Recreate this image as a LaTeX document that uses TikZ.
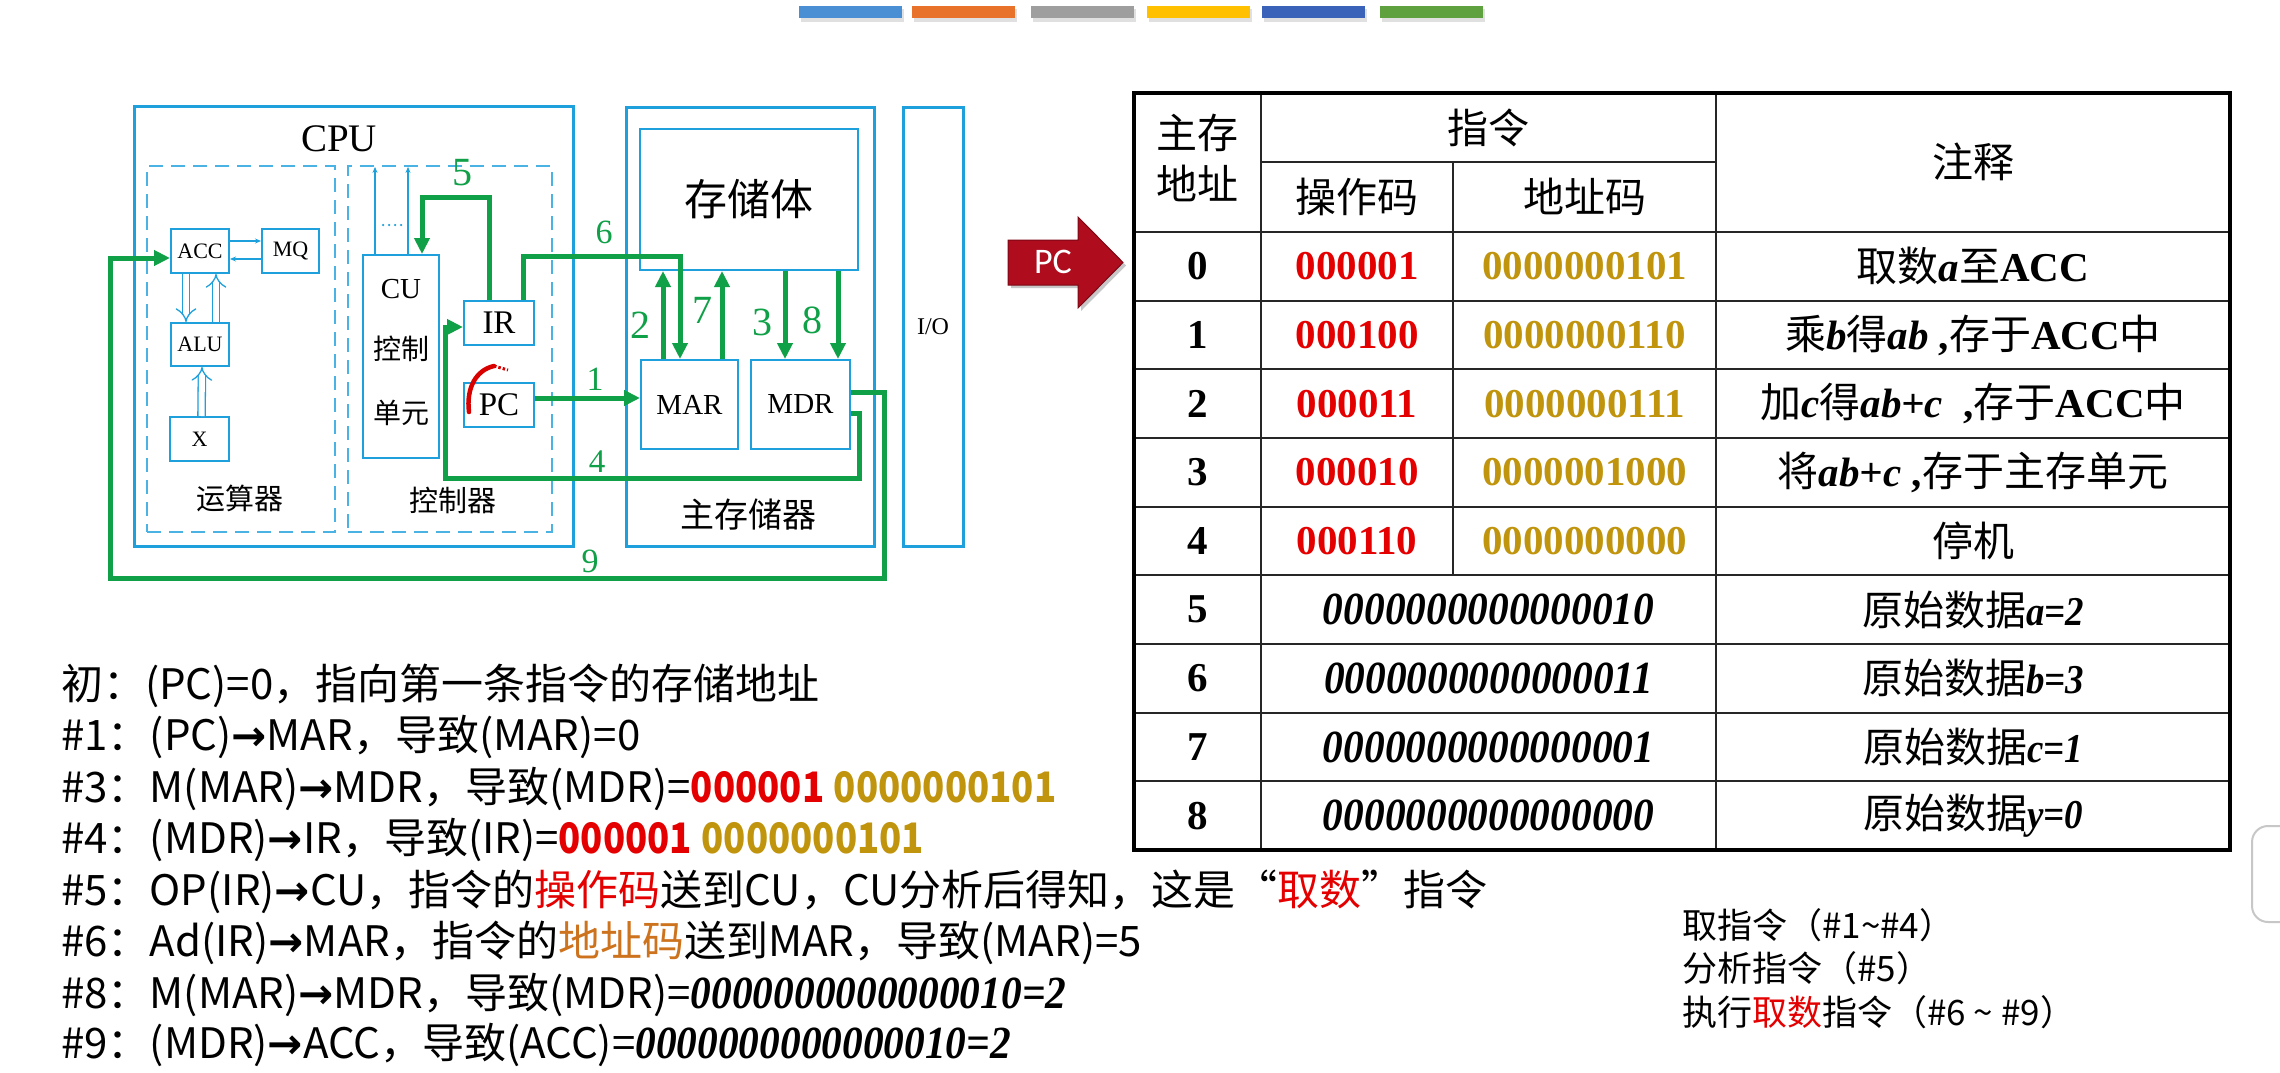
\documentclass[tikz,border=0pt]{standalone}
\usepackage{fontspec}
\usepackage{graphicx}
\setmainfont{Liberation Serif}
\newfontfamily\zhfont{Noto Sans CJK SC}
\newfontfamily\carlfont{Carlito}
\newfontfamily\djvfont{DejaVu Sans}
\usetikzlibrary{arrows.meta,calc}
\definecolor{cpublue}{RGB}{30,160,220}
\definecolor{flowgreen}{RGB}{16,160,72}
\definecolor{pcred}{RGB}{175,12,30}
\definecolor{opred}{RGB}{228,0,0}
\definecolor{adgold}{RGB}{192,148,12}
\definecolor{txtbrown}{RGB}{205,115,30}
\definecolor{barA}{RGB}{74,143,212}
\definecolor{barB}{RGB}{232,114,42}
\definecolor{barC}{RGB}{158,158,158}
\definecolor{barD}{RGB}{255,192,0}
\definecolor{barE}{RGB}{58,98,184}
\definecolor{barF}{RGB}{94,161,62}
\newcommand\setfs[1]{\fontsize{#1}{#1}\selectfont}
\newcommand\zh[1]{{\zhfont #1}}
\newcommand\bi[1]{{\rmfamily\bfseries\itshape #1}}
\newcommand\bic[1]{\scalebox{0.9}[1]{\rmfamily\bfseries\itshape #1}}
\newcommand\cdig[2]{\textcolor{#1}{\scalebox{0.87}[1]{\bfseries #2}}}
\newcommand\arr{{\djvfont\bfseries →}}
\begin{document}
\begin{tikzpicture}[x=1pt,y=-1pt,
  bigbox/.style={draw=cpublue, line width=3pt, inner sep=0pt},
  dashbox/.style={draw=cpublue!80, line width=2.2pt, dash pattern=on 14pt off 8pt, inner sep=0pt},
  regbox/.style={draw=cpublue, line width=2pt, inner sep=0pt},
  lbl/.style={inner sep=0pt},
  flow/.style={draw=flowgreen, line width=5pt, -{Triangle[length=16pt,width=15pt]}},
  flowlbl/.style={text=flowgreen, inner sep=0pt},
  thinarrow/.style={draw=cpublue, line width=1.3pt, -{Stealth[length=6pt,width=5pt]}},
  hollow/.style={draw=cpublue, line width=1.3pt, double=white, double distance=6pt, -{Implies}},
  tline/.style={line width=2.2pt, black!85},
  hd/.style={inner sep=0pt, font=\zhfont\setfs{41}},
  num/.style={inner sep=0pt, font=\bfseries\setfs{41}},
  note/.style={inner sep=0pt, font=\setfs{41}},
  btxt/.style={anchor=west, inner sep=0pt, font=\zhfont\setfs{42}},
  stxt/.style={anchor=west, inner sep=0pt, font=\zhfont\setfs{35}}
]
\useasboundingbox (0,0) rectangle (2280,1073);
\fill[white] (0,0) rectangle (2280,1073);

% top colour bars
\foreach \bx/\bc in {799/barA,912/barB,1031/barC,1147/barD,1262/barE,1380/barF}{
  \fill[black!12] (\bx+2,9) rectangle ++(103,13);
  \fill[\bc] (\bx,6) rectangle ++(103,12);
}

% ---------------- diagram ----------------
\node[bigbox, minimum width=439pt, minimum height=440pt] (cpu) at (353.5,326) {};
\node[lbl, font=\setfs{39}] (cpulbl) at (339,139) {CPU};
\node[dashbox, minimum width=188pt, minimum height=366pt] (alubox) at (241,349) {};
\node[dashbox, minimum width=204pt, minimum height=366pt] (ctlbox) at (450,349) {};

\node[regbox, font=\setfs{22}, minimum width=58pt, minimum height=44pt] (acc) at (200,251) {ACC};
\node[regbox, font=\setfs{22}, minimum width=57pt, minimum height=44pt] (mq) at (290.5,251) {MQ};
\node[regbox, font=\setfs{22}, minimum width=58pt, minimum height=43pt] (alu) at (200,344.5) {ALU};
\node[regbox, font=\setfs{22}, minimum width=59pt, minimum height=44pt] (xreg) at (199.5,439) {X};
\node[lbl, font=\zhfont\setfs{29}] (ysq) at (240,498) {运算器};

\node[regbox, minimum width=76pt, minimum height=203pt] (cu) at (401,356.5) {};
\node[lbl, font=\setfs{29}] (cut1) at (401,289) {CU};
\node[lbl, font=\zhfont\setfs{28}] (cut2) at (401,349) {控制};
\node[lbl, font=\zhfont\setfs{28}] (cut3) at (401,413) {单元};
\node[regbox, font=\setfs{33}, minimum width=70pt, minimum height=44pt] (ir) at (499,323) {IR};
\node[regbox, font=\setfs{33}, minimum width=70pt, minimum height=44pt] (pc) at (499,405) {PC};
\node[lbl, font=\zhfont\setfs{29}] (kzq) at (453,500) {控制器};

\node[bigbox, minimum width=248pt, minimum height=439pt] (mem) at (750,326.5) {};
\node[regbox, font=\zhfont\setfs{43}, minimum width=218pt, minimum height=141pt] (body) at (749,199.5) {存储体};
\node[regbox, font=\setfs{29}, minimum width=97pt, minimum height=89pt] (mar) at (689.5,404.5) {MAR};
\node[regbox, font=\setfs{29}, minimum width=99pt, minimum height=89pt] (mdr) at (800.5,404.5) {MDR};
\node[lbl, font=\zhfont\setfs{34}] (zcq) at (748,515) {主存储器};
\node[bigbox, font=\setfs{24}, minimum width=60pt, minimum height=439pt] (io) at (933,326.5) {I/O};

% blue internal connectors
\draw[thinarrow] ($(acc.east)+(0,-10)$) -- ($(mq.west)+(0,-10)$);
\draw[thinarrow] ($(mq.west)+(0,8)$) -- ($(acc.east)+(0,8)$);
\draw[hollow] ($(acc.south)+(-14,0)$) -- ($(alu.north)+(-14,0)$);
\draw[hollow] ($(alu.north)+(16,0)$) -- ($(acc.south)+(16,0)$);
\draw[hollow] ($(xreg.north)+(2,0)$) -- ($(alu.south)+(2,0)$);
\draw[thinarrow] ($(cu.north)+(-26,0)$) -- ($(cu.north |- ctlbox.north)+(-26,2)$);
\draw[thinarrow] ($(cu.north)+(7,0)$) -- ($(cu.north |- ctlbox.north)+(7,2)$);
\draw[cpublue, line width=2.5pt, dash pattern=on 0pt off 6pt, line cap=round] (383,225) -- (406,225);

% green data paths
\coordinate (bend4) at (445,478);
\coordinate (bend9) at (110,578);
\draw[flow] ($(ir.north)+(-10,0)$) -- ++(0,-103) -| ($(cu.north)+(21,0)$);
\draw[flow] ($(ir.north)+(24,0)$) -- ++(0,-44) -| ($(mar.north)+(-9.5,0)$);
\draw[flow] ($(pc.east)+(0,-7)$) -- ($(pc.east -| mar.west)+(0,-7)$);
\draw[flow] ($(mdr.east)+(0,8.5)$) -- ++(8,0) |- (bend4) |- ($(ir.west)+(0,4)$);
\draw[flow] ($(mdr.east)+(0,-12.5)$) -- ++(33,0) |- (bend9) |- ($(acc.west)+(0,7)$);
\draw[flow] ($(mar.north)+(-26.5,0)$) -- ($(mar.north |- body.south)+(-26.5,0)$);
\draw[flow] ($(mar.north)+(32.5,0)$) -- ($(mar.north |- body.south)+(32.5,0)$);
\draw[flow] ($(body.south)+(36,0)$) -- ($(body.south |- mdr.north)+(36,0)$);
\draw[flow] ($(body.south)+(89,0)$) -- ($(body.south |- mdr.north)+(89,0)$);

\node[flowlbl, font=\setfs{40}] (f5) at (462,173) {5};
\node[flowlbl, font=\setfs{34}] (f6) at (604,232) {6};
\node[flowlbl, font=\setfs{34}] (f1) at (595,379) {1};
\node[flowlbl, font=\setfs{33}] (f4) at (597,462) {4};
\node[flowlbl, font=\setfs{34}] (f9) at (590,561) {9};
\node[flowlbl, font=\setfs{40}] (f2) at (640,325) {2};
\node[flowlbl, font=\setfs{40}] (f7) at (702,310) {7};
\node[flowlbl, font=\setfs{40}] (f3) at (762,322) {3};
\node[flowlbl, font=\setfs{40}] (f8) at (812,320) {8};

% red mark at PC
\draw[red!85!black, line width=4.5pt, line cap=round] (469,412) .. controls (466,388) and (476,370) .. (494,366);
\draw[red!85!black, line width=3pt, dash pattern=on 2.5pt off 2pt] (494,366) -- (508,370);

% ---------------- PC pointer ----------------
\fill[black!22] (1011,243) -- (1081,243) -- (1081,220) -- (1126,265.5) -- (1081,311) -- (1081,288) -- (1011,288) -- cycle;
\filldraw[fill=pcred, draw=pcred!70!black, line width=1pt] (1008,240) -- (1078,240) -- (1078,217) -- (1123,262.5) -- (1078,308) -- (1078,285) -- (1008,285) -- cycle;
\node[lbl, text=white, font=\carlfont\setfs{36}] (pctag) at (1053,262) {PC};

% ---------------- table ----------------
\draw[tline] (1261,93) -- (1261,850);
\draw[tline] (1716,93) -- (1716,850);
\draw[tline] (1261,162) -- (1716,162);
\draw[tline] (1453,162) -- (1453,575.4);
\foreach \k in {0,...,8} \draw[tline] (1134,232+68.67*\k) -- (2230,232+68.67*\k);
\draw[line width=4pt] (1134,93) rectangle (2230,850);

\node[hd] (h1) at (1197.5,133) {主存};
\node[hd] (h2) at (1197.5,183) {地址};
\node[hd] (h3) at (1488.5,128) {指令};
\node[hd] (h4) at (1357,197) {操作码};
\node[hd] (h5) at (1584.5,197) {地址码};
\node[hd] (h6) at (1973,162) {注释};

\foreach \i/\op/\ad in {0/000001/0000000101,1/000100/0000000110,2/000011/0000000111,3/000010/0000001000,4/000110/0000000000}{
  \node[num] (a\i) at (1197.5,266.3+68.67*\i) {\i};
  \node[num, text=opred] (o\i) at (1357,266.3+68.67*\i) {\op};
  \node[num, text=adgold] (d\i) at (1584.5,266.3+68.67*\i) {\ad};
}
\foreach \i/\bn in {5/0000000000000010,6/0000000000000011,7/0000000000000001,8/0000000000000000}{
  \node[num] (a\i) at (1197.5,266.3+68.67*\i) {\i};
  \node[note, font=\setfs{46}] (m\i) at (1488.5,266.3+68.67*\i) {\bic{\bn}};
}
\node[note] (n0) at (1973,266.3) {\zh{取数}\bi{a}\zh{至}\textbf{ACC}};
\node[note] (n1) at (1973,335) {\zh{乘}\bi{b}\zh{得}\bi{ab}\textbf{ ,}\zh{存于}\textbf{ACC}\zh{中}};
\node[note] (n2) at (1973,403.6) {\zh{加}\bi{c}\zh{得}\bi{ab+c}\textbf{\ \ ,}\zh{存于}\textbf{ACC}\zh{中}};
\node[note] (n3) at (1973,472.3) {\zh{将}\bi{ab+c}\textbf{ ,}\zh{存于主存单元}};
\node[note] (n4) at (1973,541) {\zh{停机}};
\node[note] (n5) at (1973,609.7) {\zh{原始数据}\bic{a=2}};
\node[note] (n6) at (1973,678.3) {\zh{原始数据}\bic{b=3}};
\node[note] (n7) at (1973,747) {\zh{原始数据}\bic{c=1}};
\node[note] (n8) at (1973,815.7) {\zh{原始数据}\bic{y=0}};

% ---------------- text below ----------------
\node[btxt] (l0) at (61,686) {初：(PC)=0，指向第一条指令的存储地址};
\node[btxt] (l1) at (61,737.4) {\#1：(PC)\arr MAR，导致(MAR)=0};
\node[btxt] (l2) at (61,788.9) {\#3：M(MAR)\arr MDR，导致(MDR)=\cdig{opred}{000001} \cdig{adgold}{0000000101}};
\node[btxt] (l3) at (61,840.3) {\#4：(MDR)\arr IR，导致(IR)=\cdig{opred}{000001} \cdig{adgold}{0000000101}};
\node[btxt] (l4) at (61,891.7) {\#5：OP(IR)\arr CU，指令的\textcolor{opred}{操作码}送到CU，CU分析后得知，这是“\textcolor{opred}{取数}”指令};
\node[btxt] (l5) at (61,943.1) {\#6：Ad(IR)\arr MAR，指令的\textcolor{txtbrown}{地址码}送到MAR，导致(MAR)=5};
\node[btxt] (l6) at (61,994.6) {\#8：M(MAR)\arr MDR，导致(MDR)={\fontsize{46}{46}\selectfont\bic{0000000000000010=2}}};
\node[btxt] (l7) at (61,1045) {\#9：(MDR)\arr ACC，导致(ACC)={\fontsize{46}{46}\selectfont\bic{0000000000000010=2}}};

\node[stxt] (s1) at (1682,925) {取指令（\#1\textasciitilde\#4）};
\node[stxt] (s2) at (1682,968) {分析指令（\#5）};
\node[stxt] (s3) at (1682,1012) {执行\textcolor{opred}{取数}指令（\#6 \textasciitilde{} \#9）};

% partial UI element at right edge
\draw[black!22, line width=2pt, fill=white, rounded corners=16pt] (2252,826) rectangle (2330,922);
\end{tikzpicture}
\end{document}
